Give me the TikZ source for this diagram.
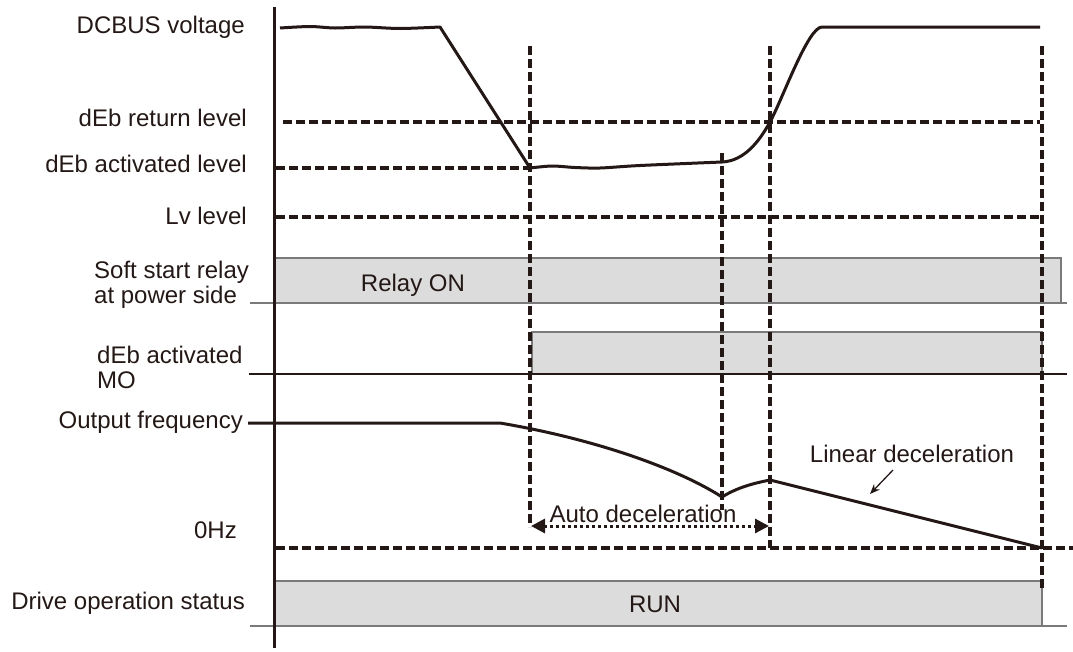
\documentclass[tikz,border=0pt]{standalone}
\usepackage{fontspec}
\setmainfont{Liberation Sans}
\usetikzlibrary{arrows.meta}
\definecolor{ink}{HTML}{231815}
\definecolor{boxgray}{HTML}{DCDCDC}
\definecolor{edgegray}{HTML}{7A7A7A}
\begin{document}
\begin{tikzpicture}[x=1pt,y=-1pt,
  font=\fontsize{24}{25}\selectfont,
  every node/.style={text=ink, inner sep=0pt},
  axisline/.style={ink, line width=3pt},
  signal/.style={ink, line width=3pt, line join=round},
  levelline/.style={ink, line width=4pt, dash pattern=on 9pt off 4pt},
  statusbox/.style={fill=boxgray, draw=edgegray, line width=1.5pt},
  grayrule/.style={edgegray, line width=1.5pt},
  blackrule/.style={ink, line width=2.5pt},
  dottedarrow/.style={ink, line width=3pt, dash pattern=on 3pt off 3pt,
    {Triangle[length=14pt,width=14pt]}-{Triangle[length=14pt,width=14pt]}},
  pointer/.style={ink, line width=1.3pt, -{Stealth[length=10pt,width=8pt]}},
  lbl/.style={anchor=east},
  lblleft/.style={anchor=west, align=left}]
\useasboundingbox (0,0) rectangle (1073,651);

% coordinates
\coordinate (axT) at (274,7);
\coordinate (axB) at (274,648);
\coordinate (v1T) at (530,46);   \coordinate (v1B) at (530,527);
\coordinate (v2T) at (722,153);  \coordinate (v2B) at (722,510);
\coordinate (v3T) at (770,46);   \coordinate (v3B) at (770,548);
\coordinate (v4T) at (1042,46);  \coordinate (v4B) at (1042,588);
\coordinate (retL) at (283,122); \coordinate (retR) at (1040,122);
\coordinate (actL) at (276,168); \coordinate (actR) at (530,168);
\coordinate (lvL) at (276,217);  \coordinate (lvR) at (1040,217);
\coordinate (hzL) at (276,548);  \coordinate (hzR) at (1073,548);

% status boxes and rules
\draw[statusbox] (274,258) rectangle (1061,303);
\draw[grayrule] (250,303) -- (1067,303);
\draw[statusbox] (532,332) rectangle (1042,374);
\draw[blackrule] (249,374) -- (1067,374);
\draw[statusbox] (274,581) rectangle (1042,626);
\draw[grayrule] (250,626) -- (1067,626);

% level lines
\draw[levelline] (retL) -- (retR);
\draw[levelline] (actL) -- (actR);
\draw[levelline] (lvL) -- (lvR);
\draw[levelline] (hzL) -- (hzR);

% vertical dashed markers
\draw[levelline] (v1T) -- (v1B);
\draw[levelline] (v2T) -- (v2B);
\draw[levelline] (v3T) -- (v3B);
\draw[levelline] (v4T) -- (v4B);

% axis
\draw[axisline] (axT) -- (axB);

% DCBUS voltage curve
\draw[signal] plot[smooth, tension=0.5] coordinates {(280,28) (310,26.5) (335,28) (365,27) (400,28.5) (440,27)}
  -- (530,168)
  plot[smooth, tension=0.5] coordinates {(530,168) (552,166) (575,167.5) (600,168) (640,165.5) (722,162)}
  .. controls (745,161) and (760,140) .. (770,122)
  .. controls (783,98) and (808,27) .. (822,27) -- (1040,27);

% output frequency curve
\draw[signal] (248,423) -- (500,423)
  .. controls (600,440) and (680,470) .. (722,497)
  .. controls (738,487) and (755,483) .. (770,480)
  -- (1042,548);

% auto deceleration arrow
\coordinate (adL) at (531,526);
\coordinate (adR) at (769,526);
\draw[dottedarrow] (adL) -- (adR);
\node (adtext) at (643,514) {Auto deceleration};

% linear deceleration
\node (lintext) at (912,454) {Linear deceleration};
\coordinate (linTip) at (870,494);
\draw[pointer] (893,470) -- (linTip);

% labels
\node[lbl] (dcbus) at (245,27) {DCBUS voltage};
\node[lbl] (ret) at (247,118) {dEb return level};
\node[lbl] (act) at (247,164) {dEb activated level};
\node[lbl] (lv) at (247,216) {Lv level};
\node[lblleft] (soft) at (94,285) {Soft start relay\\at power side};
\node (relay) at (413,285) {Relay ON};
\node[lblleft] (mo) at (97,367) {dEb activated\\MO};
\node[lbl] (outf) at (243,422) {Output frequency};
\node[lbl] (zero) at (237,530) {0Hz};
\node[lbl] (drive) at (245,603) {Drive operation status};
\node (run) at (655,604) {RUN};
\end{tikzpicture}
\end{document}
